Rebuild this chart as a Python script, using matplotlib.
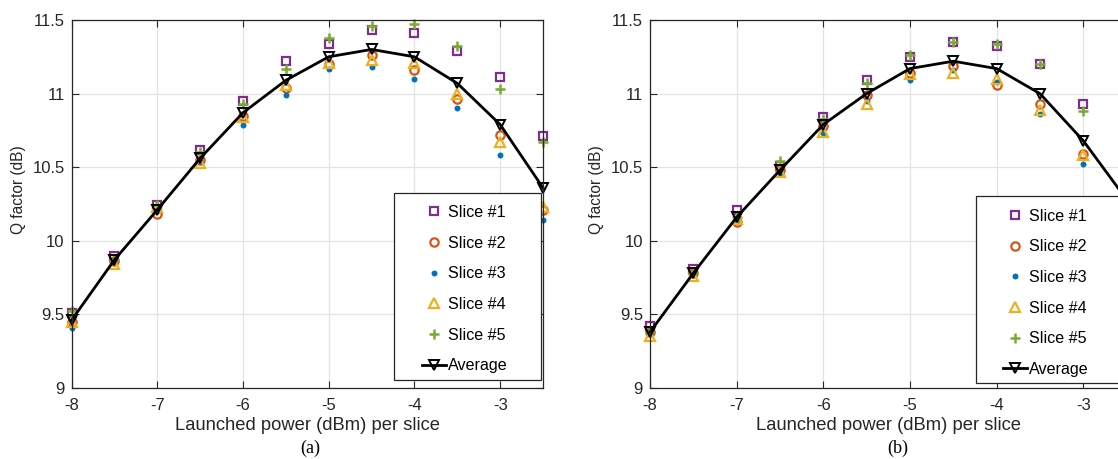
import matplotlib
matplotlib.use("Agg")
import matplotlib.pyplot as plt
from matplotlib.patches import Rectangle

plt.rcParams["font.family"] = ["Liberation Sans", "DejaVu Sans"]
plt.rcParams["axes.unicode_minus"] = False

power = [-8, -7.5, -7, -6.5, -6, -5.5, -5, -4.5, -4, -3.5, -3, -2.5]

# panel (a)
a_slice1 = [9.51, 9.90, 10.24, 10.62, 10.95, 11.22, 11.34, 11.43, 11.41, 11.29, 11.11, 10.71]
a_slice2 = [9.45, 9.86, 10.18, 10.55, 10.85, 11.04, 11.20, 11.26, 11.16, 10.96, 10.72, 10.21]
a_slice3 = [9.41, 9.86, 10.20, 10.54, 10.79, 10.99, 11.17, 11.18, 11.10, 10.90, 10.58, 10.14]
a_slice4 = [9.45, 9.84, 10.23, 10.53, 10.84, 11.06, 11.21, 11.23, 11.21, 11.00, 10.67, 10.23]
a_slice5 = [9.52, 9.87, 10.24, 10.60, 10.93, 11.17, 11.38, 11.46, 11.47, 11.32, 11.03, 10.67]
a_avg = [9.46, 9.87, 10.21, 10.56, 10.87, 11.09, 11.25, 11.30, 11.25, 11.07, 10.79, 10.36]

# panel (b)
b_slice1 = [9.42, 9.81, 10.21, 10.51, 10.84, 11.09, 11.25, 11.35, 11.32, 11.20, 10.93, 10.50]
b_slice2 = [9.38, 9.78, 10.13, 10.48, 10.78, 10.99, 11.14, 11.19, 11.06, 10.93, 10.59, 10.20]
b_slice3 = [9.38, 9.78, 10.14, 10.46, 10.73, 10.95, 11.09, 11.16, 11.08, 10.86, 10.52, 10.12]
b_slice4 = [9.35, 9.76, 10.15, 10.47, 10.74, 10.93, 11.13, 11.14, 11.10, 10.89, 10.58, 10.18]
b_slice5 = [9.38, 9.78, 10.16, 10.54, 10.83, 11.07, 11.26, 11.35, 11.34, 11.20, 10.88, 10.45]
b_avg = [9.38, 9.78, 10.16, 10.48, 10.79, 11.00, 11.17, 11.22, 11.17, 11.00, 10.68, 10.28]

labels = ["Slice #1", "Slice #2", "Slice #3", "Slice #4", "Slice #5", "Average"]
colors = ["#7E2F8E", "#D95319", "#0072BD", "#EDB120", "#77AC30", "black"]

W, H = 1118, 459
fig = plt.figure(figsize=(W / 100, H / 100), dpi=100)


def draw_panel(left_px, right_px, slices, avg, box, leg_anchor, letter, letter_x):
    ax = fig.add_axes([left_px / W, (H - 388) / H, (right_px - left_px) / W, 368 / H])
    s1, s2, s3, s4, s5 = slices
    ax.plot(power, s1, ls="none", marker="s", ms=6, mfc="none", mec=colors[0], mew=1.6,
            label=labels[0], clip_on=False)
    ax.plot(power, s2, ls="none", marker="o", ms=6, mfc="none", mec=colors[1], mew=1.6,
            label=labels[1], clip_on=False)
    ax.plot(power, s3, ls="none", marker="o", ms=4.3, mfc=colors[2], mec=colors[2], mew=0,
            label=labels[2], clip_on=False)
    ax.plot(power, s4, ls="none", marker="^", ms=7, mfc="none", mec=colors[3], mew=1.6,
            label=labels[3], clip_on=False)
    ax.plot(power, s5, ls="none", marker="+", ms=6.5, mec=colors[4], mew=1.8,
            label=labels[4], clip_on=False)
    ax.plot(power, avg, color="black", lw=2, marker="v", ms=7.5, mfc="none", mec="black", mew=1.4,
            label=labels[5], clip_on=False)

    ax.set_xlim(-8, -2.5)
    ax.set_ylim(9, 11.5)
    ax.set_xticks([-8, -7, -6, -5, -4, -3])
    ax.set_xticklabels(["-8", "-7", "-6", "-5", "-4", "-3"])
    ax.set_yticks([9, 9.5, 10, 10.5, 11, 11.5])
    ax.set_yticklabels(["9", "9.5", "10", "10.5", "11", "11.5"])
    ax.grid(True, color="#E3E3E3", lw=0.9)
    ax.set_axisbelow(True)
    ax.tick_params(direction="in", length=5, width=0.8, top=True, right=True,
                   labelsize=12, colors="#262626", pad=5)
    ax.tick_params(axis="x", pad=7)
    for sp in ax.spines.values():
        sp.set_color("#262626")
        sp.set_linewidth(0.9)

    ax.set_xlabel("Launched power (dBm) per slice", fontsize=13.2, color="#262626", labelpad=3)
    fig.text((left_px - 53) / W, 1 - 190 / H, "Q factor (dB)", rotation=90, fontsize=11.2,
             color="#262626", ha="center", va="center")

    ax.add_patch(Rectangle((box[0], box[1]), box[2] - box[0], box[3] - box[1],
                           transform=ax.transAxes, fill=True, fc="white", ec="#262626",
                           lw=0.9, zorder=5, clip_on=False))
    leg = ax.legend(loc="upper left", bbox_to_anchor=leg_anchor, frameon=False,
                    fontsize=11.6, borderaxespad=0, borderpad=0, handlelength=1.5,
                    handletextpad=0.15, labelspacing=0.97, numpoints=1)
    leg.set_zorder(6)

    fig.text(letter_x / W, 1 - 448 / H, letter,
             fontsize=13, family="Liberation Serif", ha="center", va="center")
    return ax


draw_panel(71.5, 543, [a_slice1, a_slice2, a_slice3, a_slice4, a_slice5], a_avg,
           (0.684, 0.0217, 0.9958, 0.5307), (0.7427, 0.497), "(a)", 310)
draw_panel(650, 1126.6, [b_slice1, b_slice2, b_slice3, b_slice4, b_slice5], b_avg,
           (0.683, 0.0136, 0.991, 0.5226), (0.740, 0.487), "(b)", 898)

fig.savefig("out.png", dpi=100)
